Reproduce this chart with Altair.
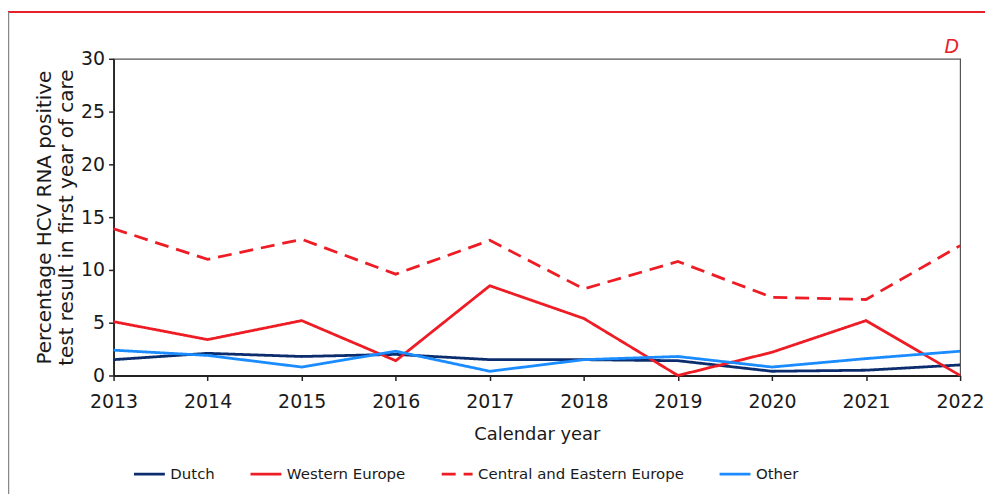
import altair as alt
import pandas as pd

years = [2013, 2014, 2015, 2016, 2017, 2018, 2019, 2020, 2021, 2022]
regions = ["Dutch", "Western Europe", "Central and Eastern Europe", "Other"]
dutch = [1.5, 2.1, 1.8, 2.0, 1.5, 1.5, 1.4, 0.4, 0.5, 1.0]
western = [5.1, 3.4, 5.2, 1.4, 8.5, 5.4, 0.0, 2.2, 5.2, 0.0]
central = [13.9, 11.0, 12.9, 9.6, 12.8, 8.2, 10.8, 7.4, 7.2, 12.3]
other = [2.4, 1.9, 0.8, 2.3, 0.4, 1.5, 1.8, 0.8, 1.6, 2.3]
y_ticks = [0, 5, 10, 15, 20, 25, 30]
panel_label = "D"

colors = ["#0b2d6e", "#ee1c25", "#ee1c25", "#1a8cff"]
dashes = [[1, 0], [1, 0], [14, 8], [1, 0]]

series = [dutch, western, central, other]
rows = []
for name, vals in zip(regions, series):
    for yr, v in zip(years, vals):
        rows.append({"year": yr, "value": v, "region": name})
df = pd.DataFrame(rows)

FONT = "DejaVu Sans"
W, H = 850, 318

lines = alt.Chart(df).mark_line(strokeWidth=2.8).encode(
    x=alt.X("year:Q", scale=alt.Scale(domain=[2013, 2022], nice=False),
            axis=alt.Axis(values=years, format="d", title="Calendar year",
                          labelPadding=12, titleY=50, labelFlush=False,
                          labelOverlap=False)),
    y=alt.Y("value:Q", scale=alt.Scale(domain=[0, 30], nice=False),
            axis=alt.Axis(values=y_ticks, title=["Percentage HCV RNA positive",
                                                 "test result in first year of care"],
                          labelPadding=4, titleX=-59, titleFontSize=20,
                          titleLineHeight=22)),
    color=alt.Color("region:N", sort=regions,
                    scale=alt.Scale(domain=regions, range=colors), title=None),
    strokeDash=alt.StrokeDash("region:N", sort=regions,
                              scale=alt.Scale(domain=regions, range=dashes), title=None),
)

one = alt.Data(values=[{"k": 1}])

top_line = alt.Chart(one).mark_rule(color="#e8202a", strokeWidth=2).encode(
    x=alt.value(-106), x2=alt.value(W + 25), y=alt.value(-47)
)
left_line = alt.Chart(one).mark_rule(color="#888888", strokeWidth=1.5).encode(
    x=alt.value(-105.5), y=alt.value(-47), y2=alt.value(H + 119)
)
label = alt.Chart(one).mark_text(
    color="#e8202a", fontSize=19, fontStyle="italic", font=FONT,
    align="right", baseline="alphabetic"
).encode(x=alt.value(W - 1), y=alt.value(-6), text=alt.value(panel_label))

chart = alt.layer(lines, top_line, left_line, label).properties(
    width=W, height=H,
    autosize=alt.AutoSizeParams(type="none"),
    padding={"left": 106, "top": 50, "right": 25, "bottom": 119},
).configure_view(
    stroke="#555555", strokeWidth=1.2
).configure_axis(
    grid=False, labelFont=FONT, titleFont=FONT, labelFontSize=19,
    titleFontSize=18, titleFontWeight="normal", labelColor="#1a1a1a",
    titleColor="#1a1a1a", domainColor="#222222", tickColor="#222222",
    domainWidth=1.8, tickWidth=1.5, tickSize=5
).configure_legend(
    orient="none", legendX=19, legendY=400, direction="horizontal",
    symbolType="stroke", symbolSize=961, symbolStrokeWidth=2.6,
    labelFont=FONT, labelFontSize=15, labelColor="#1a1a1a",
    columnPadding=30, labelOffset=4, labelLimit=400
)

chart.save("out.html", embed_options={"renderer": "svg", "actions": False})
